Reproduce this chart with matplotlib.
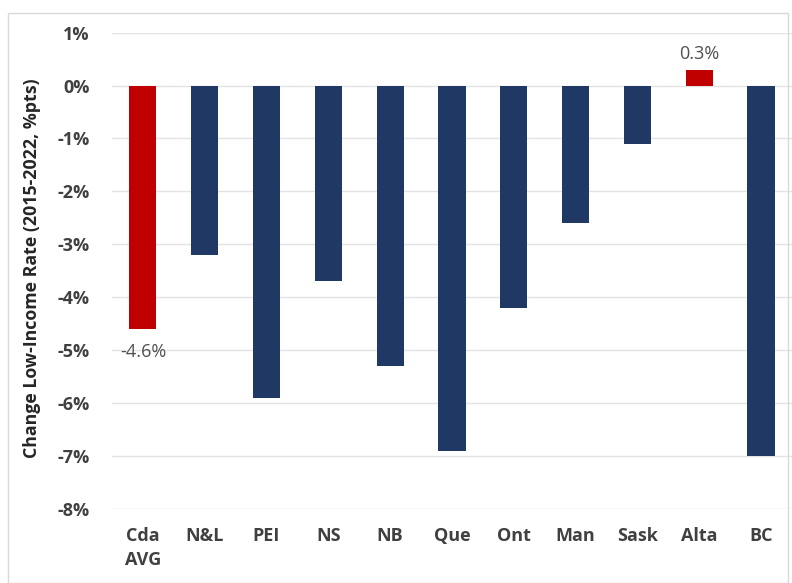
import matplotlib
matplotlib.use("Agg")
from matplotlib import pyplot as plt
import matplotlib.patches as mpatches
from matplotlib.ticker import FuncFormatter

regions = ["Cda\nAVG", "N&L", "PEI", "NS", "NB", "Que", "Ont", "Man", "Sask", "Alta", "BC"]
change = [-4.6, -3.2, -5.9, -3.7, -5.3, -6.9, -4.2, -2.6, -1.1, 0.3, -7.0]
highlight = ["Cda\nAVG", "Alta"]
labelled = {"Cda\nAVG": "-4.6%", "Alta": "0.3%"}

navy = "#1F3864"
red = "#C00000"
text_col = "#404040"

plt.rcParams['font.family'] = ['Open Sans', 'DejaVu Sans']

fig = plt.figure(figsize=(7.92, 5.83), dpi=100)
ax = fig.add_axes([0.1414, 0.127, 0.8586, 0.817])

colors = [red if r in highlight else navy for r in regions]
x = list(range(len(regions)))
bars = ax.bar(x, change, width=0.44, color=colors, zorder=3)

for xi, r, v in zip(x, regions, change):
    if r in labelled:
        off = 5 if v > 0 else -10
        ax.annotate(labelled[r], (xi, v), xytext=(0, off), textcoords="offset points",
                    ha="center", va="bottom" if v > 0 else "top",
                    fontsize=13, color="#505050")

ax.set_ylim(-8, 1)
ax.set_xlim(-0.5, len(regions) - 0.5)
ax.set_yticks(range(-8, 2))
ax.yaxis.set_major_formatter(FuncFormatter(lambda v, p: f"{int(v)}%"))
ax.set_xticks(x)
ax.set_xticklabels(regions)
ax.grid(axis="y", color="#E3E3E3", lw=1, zorder=0)
ax.tick_params(axis="both", length=0, labelsize=13, colors=text_col)
ax.tick_params(axis="y", pad=16)
ax.tick_params(axis="x", pad=13)
for lab in ax.get_xticklabels() + ax.get_yticklabels():
    lab.set_fontweight("bold")
    lab.set_linespacing(1.4)
for s in ax.spines.values():
    s.set_visible(False)

ax.set_ylabel("Change Low-Income Rate (2015-2022, %pts)", fontsize=12.8, fontweight="bold",
              color="#262626")
ax.yaxis.set_label_coords(-0.105, 0.505)

# light frame round the whole chart
frame = mpatches.Rectangle((0.01, 0.0), 0.985, 0.978, transform=fig.transFigure,
                           fill=False, edgecolor="#D9D9D9", lw=1)
fig.patches.append(frame)

fig.savefig("out.png", dpi=100)
